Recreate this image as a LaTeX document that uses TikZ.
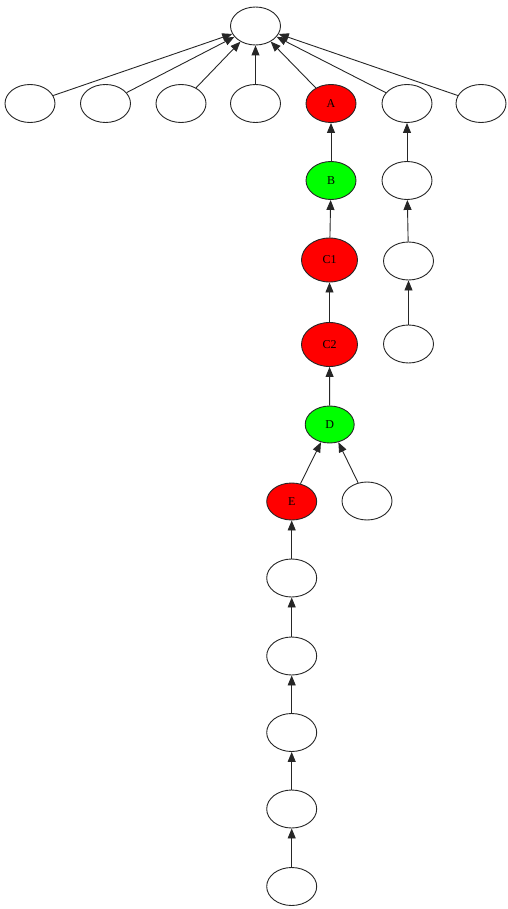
\documentclass[tikz,border=0pt]{standalone}
\usepackage{fontspec}
\setmainfont{Liberation Serif}
\usetikzlibrary{shapes.geometric,arrows.meta}
\definecolor{nred}{HTML}{FF0000}
\definecolor{ngreen}{HTML}{00FF00}
\begin{document}
\begin{tikzpicture}[x=1pt,y=-1pt,
  nd/.style={ellipse,draw=black!85,line width=0.9pt,fill=white,minimum width=50pt,minimum height=38pt,inner sep=0pt,font=\fontsize{12}{14}\selectfont},
  big/.style={minimum width=56pt,minimum height=44pt},
  rednd/.style={nd,fill=nred},
  greennd/.style={nd,fill=ngreen},
  edge/.style={draw=black!85,line width=0.9pt,-{Triangle[length=10pt,width=8pt]}}]
\useasboundingbox (0,0) rectangle (507,909);
\node[nd] (top) at (255.5,26) {};
\node[nd] (r1) at (30,103.5) {};
\node[nd] (r2) at (105.5,103.5) {};
\node[nd] (r3) at (181,103.5) {};
\node[nd] (r4) at (255.5,103.5) {};
\node[rednd] (A) at (331,103.5) {A};
\node[nd] (r6) at (407,103.5) {};
\node[nd] (r7) at (481,103.5) {};
\node[greennd] (B) at (331,180.5) {B};
\node[nd] (s1) at (407,180.5) {};
\node[rednd,big] (C1) at (329.5,260) {C1};
\node[nd] (s2) at (408.5,261) {};
\node[rednd,big] (C2) at (329.5,344.5) {C2};
\node[nd] (s3) at (408.5,344) {};
\node[greennd,minimum width=49pt,minimum height=37pt] (D) at (329.7,424.5) {D};
\node[rednd,minimum height=37pt] (E) at (291.7,501.5) {E};
\node[nd] (e2) at (367,501) {};
\node[nd] (t1) at (291.7,578) {};
\node[nd] (t2) at (291.7,656) {};
\node[nd] (t3) at (291.7,732.5) {};
\node[nd] (t4) at (291.7,809) {};
\node[nd] (t5) at (291.7,886.5) {};
\foreach \n in {r1,r2,r3,r4,A,r6,r7} \draw[edge] (\n) -- (top);
\draw[edge] (B) -- (A);
\draw[edge] (C1) -- (B);
\draw[edge] (C2) -- (C1);
\draw[edge] (D) -- (C2);
\draw[edge] (E) -- (D);
\draw[edge] (e2) -- (D);
\draw[edge] (s1) -- (r6);
\draw[edge] (s2) -- (s1);
\draw[edge] (s3) -- (s2);
\draw[edge] (t1) -- (E);
\draw[edge] (t2) -- (t1);
\draw[edge] (t3) -- (t2);
\draw[edge] (t4) -- (t3);
\draw[edge] (t5) -- (t4);
\end{tikzpicture}
\end{document}
